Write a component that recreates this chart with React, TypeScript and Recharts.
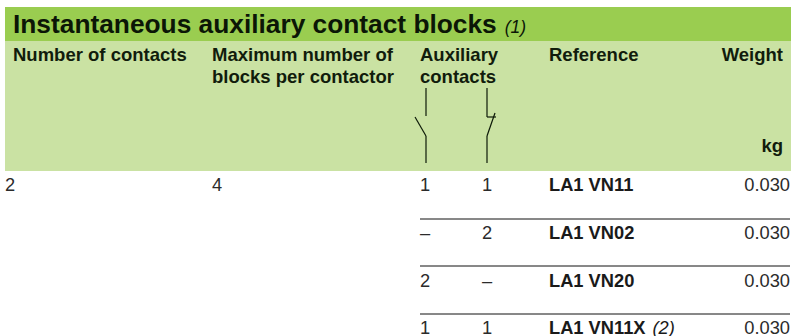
import { ScatterChart, Scatter, XAxis, YAxis, ReferenceArea, ReferenceLine } from "recharts";

const title = "Instantaneous auxiliary contact blocks";
const titleNote = "(1)";

const headerContacts = ["Number of contacts"];
const headerBlocks = ["Maximum number of", "blocks per contactor"];
const headerAux = ["Auxiliary", "contacts"];
const headerRef = ["Reference"];
const headerWeight = ["Weight"];
const headerUnit = ["kg"];

const contactCounts = ["2"];
const blockCounts = ["4"];
const noContacts = ["1", "–", "2", "1"];
const ncContacts = ["1", "2", "–", "1"];
const references = ["LA1 VN11", "LA1 VN02", "LA1 VN20", "LA1 VN11X"];
const referenceNotes = ["", "", "", "(2)"];
const weights = ["0.030", "0.030", "0.030", "0.030"];

const W = 791;
const H = 336;
const INK = "#111c0c";
const BODY = "#2b2b2b";
const FONT = "'Liberation Sans', Arial, sans-serif";
const TEXT_SIZE = 18.3;
const HEADER_SIZE = 18.5;

const headerLines = [61, 83];
const rowLines = [191, 239, 287, 334];
const ruleLines = [219, 266, 314];

// contact symbols, in chart pixels
const symbolSegments = [
  [[426, 88], [426, 116]],
  [[415, 117], [426, 136]],
  [[426, 136], [426, 163]],
  [[487, 88], [487, 117]],
  [[487, 117], [496, 117]],
  [[495, 113], [487, 136]],
  [[487, 136], [487, 163]],
];

function TextColumn({ values, x, ys, size = TEXT_SIZE, bold = false, fill = BODY, anchor = "start", notes, noteSize = TEXT_SIZE, noteGap = 7 }: any) {
  const rows = values.map((v: string, i: number) => ({ x, y: ys[i], label: v, note: notes ? notes[i] : "" }));
  return (
    <Scatter
      data={rows}
      dataKey="y"
      isAnimationActive={false}
      shape={(p: any) => (
        <text
          x={p.cx}
          y={p.cy}
          textAnchor={anchor}
          fontFamily={FONT}
          fontSize={size}
          fontWeight={bold ? "bold" : "normal"}
          fill={fill}
        >
          {p.payload.label}
          {p.payload.note ? (
            <tspan fontWeight="normal" fontStyle="italic" fontSize={noteSize} dx={noteGap}>
              {p.payload.note}
            </tspan>
          ) : null}
        </text>
      )}
    />
  );
}

export default function App() {
  return (
    <div style={{ position: "absolute", left: 0, top: 0, width: W, height: H, background: "#fff" }}>
      <ScatterChart width={W} height={H} margin={{ top: 0, right: 0, bottom: 0, left: 0 }}>
        <XAxis type="number" dataKey="x" domain={[0, W]} hide />
        <YAxis type="number" dataKey="y" domain={[0, H]} reversed hide />

        <ReferenceArea x1={5} x2={W} y1={7} y2={41} fill="#9acd50" fillOpacity={1} stroke="none" />
        <ReferenceArea x1={5} x2={W} y1={41} y2={171} fill="#cae2a3" fillOpacity={1} stroke="none" />

        {ruleLines.map((y) => (
          <ReferenceLine key={y} segment={[{ x: 420, y }, { x: 790, y }]} stroke="#111" strokeWidth={1} />
        ))}
        {symbolSegments.map((s, i) => (
          <ReferenceLine
            key={i}
            segment={[{ x: s[0][0], y: s[0][1] }, { x: s[1][0], y: s[1][1] }]}
            stroke="#0d1a08"
            strokeWidth={1.2}
          />
        ))}

        {TextColumn({ values: [title], x: 13, ys: [33], size: 26.3, bold: true, fill: "#0b1606", notes: [titleNote], noteSize: 17.5, noteGap: 8 })}
        {TextColumn({ values: headerContacts, x: 13, ys: headerLines, size: HEADER_SIZE, bold: true, fill: INK })}
        {TextColumn({ values: headerBlocks, x: 212, ys: headerLines, size: HEADER_SIZE, bold: true, fill: INK })}
        {TextColumn({ values: headerAux, x: 420, ys: headerLines, size: HEADER_SIZE, bold: true, fill: INK })}
        {TextColumn({ values: headerRef, x: 549, ys: headerLines, size: HEADER_SIZE, bold: true, fill: INK })}
        {TextColumn({ values: headerWeight, x: 783, ys: headerLines, size: HEADER_SIZE, bold: true, fill: INK, anchor: "end" })}
        {TextColumn({ values: headerUnit, x: 783, ys: [152], size: HEADER_SIZE, bold: true, fill: INK, anchor: "end" })}

        {TextColumn({ values: contactCounts, x: 5, ys: rowLines })}
        {TextColumn({ values: blockCounts, x: 212, ys: rowLines })}
        {TextColumn({ values: noContacts, x: 420, ys: rowLines })}
        {TextColumn({ values: ncContacts, x: 482, ys: rowLines })}
        {TextColumn({ values: references, x: 549, ys: rowLines, bold: true, fill: "#1a1a1a", notes: referenceNotes })}
        {TextColumn({ values: weights, x: 790, ys: rowLines, anchor: "end" })}
      </ScatterChart>
    </div>
  );
}
